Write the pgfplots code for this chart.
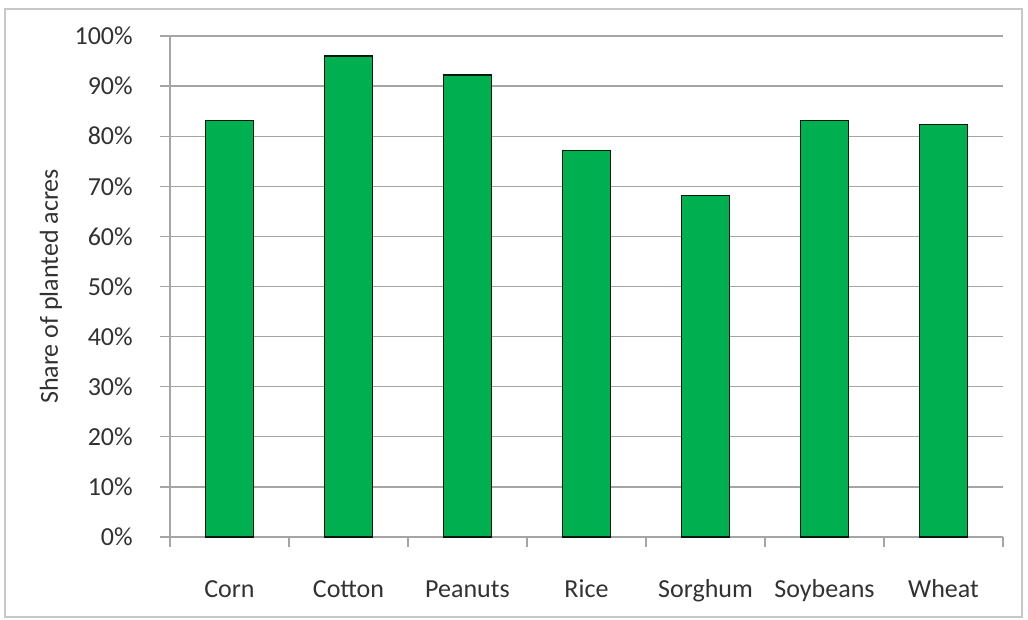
\documentclass[border=0pt]{standalone}
\usepackage{pgfplots}
\pgfplotsset{compat=1.18}
\usepackage{fontspec}
\setmainfont{Carlito}
\definecolor{barg}{RGB}{0,176,80}
\definecolor{gridc}{RGB}{165,165,165}
\definecolor{txt}{RGB}{50,50,50}
\begin{document}
\begin{tikzpicture}
\useasboundingbox (0,0) rectangle (771pt,465pt);
\draw[color={rgb,255:red,200;green,200;blue,200}, line width=1.3pt] (3.75pt,458.25pt) rectangle (766.5pt,2.25pt);
\begin{axis}[
  at={(127.5pt,62.25pt)}, anchor=south west,
  scale only axis, width=624.75pt, height=375.75pt,
  ybar, bar width=36pt,
  xmin=-0.5, xmax=6.5, ymin=0, ymax=100,
  axis lines*=left,
  axis line style={draw=gridc, line width=1pt},
  xtick={0,...,6},
  xticklabels={Corn,Cotton,Peanuts,Rice,Sorghum,Soybeans,Wheat},
  minor xtick={-0.5,0.5,...,6.5},
  major x tick style={draw=none},
  ytick={0,10,...,100},
  yticklabels={0\%,10\%,20\%,30\%,40\%,50\%,60\%,70\%,80\%,90\%,100\%},
  tick align=outside,
  major tick length=7.5pt, minor tick length=7.5pt,
  tick style={draw=gridc, line width=1pt},
  ymajorgrids,
  major grid style={draw=gridc, line width=1pt},
  tick label style={font=\fontsize{19.5}{23}\selectfont, text=txt},
  xticklabel style={anchor=base, inner sep=0pt, yshift=-38.25pt},
  yticklabel style={anchor=east, inner sep=0pt, xshift=-20.25pt},
  ylabel={Share of planted acres},
  ylabel style={at={(axis description cs:-0.14286,0.5)}, anchor=center, font=\fontsize{19.5}{23}\selectfont, text=txt},
  clip=false,
]
\addplot[fill=barg, draw=black!85!barg, line width=0.9pt] coordinates {
  (0,83.2) (1,96.0) (2,92.2) (3,77.2) (4,68.1) (5,83.2) (6,82.3)
};
\end{axis}
\end{tikzpicture}
\end{document}
